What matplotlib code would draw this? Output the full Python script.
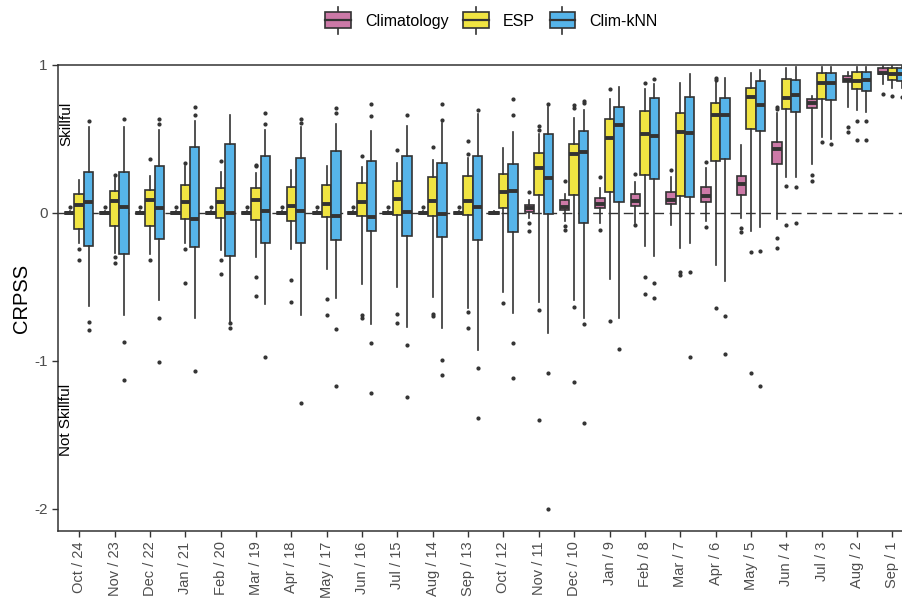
import matplotlib
matplotlib.use("Agg")
import matplotlib.pyplot as plt
from matplotlib.patches import Rectangle
from matplotlib.lines import Line2D
from matplotlib.legend_handler import HandlerBase

plt.rcParams['font.family'] = ['Liberation Sans', 'DejaVu Sans']

months = ["Oct / 24", "Nov / 23", "Dec / 22", "Jan / 21", "Feb / 20", "Mar / 19",
          "Apr / 18", "May / 17", "Jun / 16", "Jul / 15", "Aug / 14", "Sep / 13",
          "Oct / 12", "Nov / 11", "Dec / 10", "Jan / 9", "Feb / 8", "Mar / 7",
          "Apr / 6", "May / 5", "Jun / 4", "Jul / 3", "Aug / 2", "Sep / 1"]

series_names = ["Climatology", "ESP", "Clim-kNN"]
series_colors = ["#CC79A7", "#F0E442", "#56B4E9"]

# ---- Climatology ----
clim_wlo = [-0.01, -0.01, -0.01, -0.01, -0.01, -0.01, -0.01, -0.01, -0.01, -0.01, -0.01, -0.01,
            -0.01, -0.034, -0.056, -0.067, -0.067, -0.083, -0.056, -0.034, -0.038, 0.33, 0.715, 0.87]
clim_q1 = [-0.004, -0.004, -0.004, -0.004, -0.004, -0.004, -0.004, -0.004, -0.004, -0.004, -0.004, -0.004,
           -0.004, 0.009, 0.022, 0.034, 0.045, 0.063, 0.072, 0.124, 0.333, 0.712, 0.883, 0.937]
clim_med = [0.0, 0.0, 0.0, 0.0, 0.0, 0.0, 0.0, 0.0, 0.0, 0.0, 0.0, 0.0,
            0.0, 0.03, 0.038, 0.058, 0.083, 0.09, 0.117, 0.193, 0.434, 0.742, 0.897, 0.948]
clim_q3 = [0.004, 0.004, 0.004, 0.004, 0.004, 0.004, 0.004, 0.004, 0.004, 0.004, 0.004, 0.004,
           0.004, 0.054, 0.088, 0.101, 0.128, 0.139, 0.175, 0.249, 0.481, 0.773, 0.926, 0.978]
clim_whi = [0.01, 0.01, 0.01, 0.01, 0.01, 0.01, 0.01, 0.01, 0.01, 0.01, 0.01, 0.01,
            0.01, 0.09, 0.128, 0.169, 0.207, 0.24, 0.303, 0.456, 0.674, 0.79, 0.955, 0.99]
clim_out = [[0.04], [0.04], [0.04], [0.04], [0.04], [0.04], [0.04], [0.04], [0.04], [0.04], [0.04], [0.04],
            [], [0.139, -0.07, -0.119], [0.213, -0.09, -0.115], [0.245, -0.112], [0.265, -0.079],
            [0.29], [0.344, -0.097], [-0.101, -0.13], [0.715, 0.701, -0.169, -0.24],
            [0.258, 0.218], [0.584, 0.546], [0.807]]

# ---- ESP ----
esp_wlo = [-0.2, -0.27, -0.28, -0.2, -0.252, -0.297, -0.247, -0.382, -0.483, -0.501, -0.569, -0.645,
           -0.535, -0.6, -0.589, -0.449, -0.225, -0.236, -0.355, -0.124, 0.24, 0.51, 0.697, 0.847]
esp_q1 = [-0.106, -0.085, -0.09, -0.04, -0.034, -0.045, -0.052, -0.025, -0.022, -0.013, -0.02, -0.013,
          0.034, 0.124, 0.124, 0.142, 0.254, 0.117, 0.351, 0.566, 0.703, 0.773, 0.836, 0.899]
esp_med = [0.056, 0.079, 0.09, 0.074, 0.076, 0.085, 0.047, 0.063, 0.076, 0.094, 0.079, 0.083,
           0.139, 0.301, 0.398, 0.506, 0.535, 0.544, 0.661, 0.782, 0.78, 0.881, 0.892, 0.939]
esp_q3 = [0.128, 0.146, 0.157, 0.187, 0.166, 0.169, 0.178, 0.191, 0.202, 0.218, 0.243, 0.247,
          0.265, 0.404, 0.463, 0.638, 0.692, 0.674, 0.746, 0.847, 0.906, 0.948, 0.955, 0.978]
esp_whi = [0.225, 0.236, 0.247, 0.32, 0.276, 0.27, 0.29, 0.32, 0.312, 0.335, 0.355, 0.37,
           0.436, 0.533, 0.64, 0.773, 0.836, 0.881, 0.888, 0.944, 0.978, 0.989, 0.989, 0.995]
esp_out = [[-0.247, -0.32], [0.254, -0.30, -0.337], [0.364, -0.315], [0.337, -0.247, -0.474],
           [0.35, -0.319, -0.413], [0.326, 0.315, -0.431, -0.562], [-0.452, -0.6], [-0.582, -0.692],
           [0.387, -0.692, -0.708], [0.427, -0.683, -0.746], [0.447, -0.685, -0.699],
           [0.40, 0.483, -0.667, -0.775], [-0.607], [0.56, 0.589, -0.658, -1.398],
           [0.712, 0.73, -0.634, -1.142], [0.838, -0.73], [0.881, -0.431, -0.551], [-0.398, -0.418],
           [0.915, 0.9, -0.64], [-0.263, -1.079], [0.18, -0.079], [0.479], [0.622, 0.49], [0.793]]

# ---- Clim-kNN ----
knn_wlo = [-0.63, -0.69, -0.59, -0.708, -0.742, -0.618, -0.692, -0.573, -0.748, -0.769, -0.775, -0.928,
           -0.674, -0.809, -0.708, -0.708, -0.292, -0.202, -0.461, -0.097, 0.24, 0.501, 0.685, 0.843]
knn_q1 = [-0.225, -0.28, -0.175, -0.23, -0.29, -0.204, -0.202, -0.18, -0.124, -0.157, -0.162, -0.182,
          -0.128, -0.004, -0.067, 0.076, 0.227, 0.108, 0.364, 0.555, 0.685, 0.76, 0.827, 0.892]
knn_med = [0.074, 0.038, 0.034, -0.04, 0.002, 0.016, 0.016, -0.02, -0.027, 0.004, -0.009, 0.043,
           0.148, 0.238, 0.413, 0.596, 0.521, 0.539, 0.661, 0.73, 0.796, 0.879, 0.899, 0.939]
knn_q3 = [0.28, 0.276, 0.319, 0.447, 0.463, 0.382, 0.369, 0.416, 0.348, 0.387, 0.337, 0.382,
          0.328, 0.535, 0.551, 0.719, 0.775, 0.782, 0.775, 0.892, 0.899, 0.948, 0.955, 0.978]
knn_whi = [0.58, 0.578, 0.56, 0.62, 0.66, 0.56, 0.578, 0.602, 0.551, 0.589, 0.607, 0.667,
           0.548, 0.719, 0.697, 0.852, 0.87, 0.937, 0.91, 0.966, 0.987, 0.989, 0.989, 0.995]
knn_out = [[0.62, -0.74, -0.79], [0.636, -0.87, -1.13], [0.6, 0.634, -0.708, -1.007],
           [0.662, 0.718, -1.067], [-0.746, -0.775], [0.602, 0.674, -0.975], [0.611, 0.636, -1.283],
           [0.674, 0.712, -0.782, -1.173], [0.658, 0.733, -0.881, -1.22], [0.663, -0.894, -1.243],
           [0.629, 0.733, -0.991, -1.094], [0.697, -1.049, -1.389], [0.663, 0.773, -0.881, -1.115],
           [0.735, -1.079, -2.0], [0.746, 0.757, -0.753, -1.42], [-0.917], [0.906, -0.474, -0.578],
           [-0.4, -0.973], [-0.694, -0.955], [-0.258, -1.173], [0.175, -0.067], [0.465],
           [0.622, 0.494], [0.786]]

series_stats = [
    (clim_wlo, clim_q1, clim_med, clim_q3, clim_whi, clim_out),
    (esp_wlo, esp_q1, esp_med, esp_q3, esp_whi, esp_out),
    (knn_wlo, knn_q1, knn_med, knn_q3, knn_whi, knn_out),
]

EDGE = "#333333"
LW = 1.2

fig = plt.figure(figsize=(9.02, 5.99), dpi=100)
ax = fig.add_axes([0.0643, 0.1135, 0.9485, 0.778])

ax.axhline(0, color=EDGE, lw=1.0, ls=(0, (7, 4)), zorder=1)
ax.axhline(1, color=EDGE, lw=1.1, zorder=1, clip_on=False)

dodge = 0.8
nser = len(series_names)
w = dodge / nser
for si, (wlo, q1, med, q3, whi, outs) in enumerate(series_stats):
    offset = -dodge / 2 + w * (si + 0.5)
    stats = []
    for i in range(len(months)):
        stats.append(dict(whislo=wlo[i], q1=q1[i], med=med[i], q3=q3[i], whishi=whi[i], fliers=outs[i]))
    positions = [i + 1 + offset for i in range(len(months))]
    ax.bxp(stats, positions=positions, widths=w, patch_artist=True, showcaps=False,
           boxprops=dict(facecolor=series_colors[si], edgecolor=EDGE, linewidth=LW),
           medianprops=dict(color=EDGE, linewidth=2.8, solid_capstyle='butt'),
           whiskerprops=dict(color=EDGE, linewidth=LW),
           flierprops=dict(marker='o', markersize=2.0, markerfacecolor=EDGE,
                           markeredgecolor=EDGE, linestyle='none'),
           manage_ticks=False, zorder=2)

ax.set_xlim(0.4, len(months) + 0.6)
ax.set_ylim(-2.15, 1.0)
ax.set_xticks(range(1, len(months) + 1))
ax.set_xticklabels(months, rotation=90, fontsize=10.5, color="#4d4d4d")
ax.set_yticks([1, 0, -1, -2])
ax.set_yticklabels(["1", "0", "-1", "-2"], fontsize=11, color="#4d4d4d")
ax.tick_params(axis='both', direction='out', length=4, width=1.0, color="#333333")
ax.set_ylabel("CRPSS", fontsize=14.5, labelpad=2)

for side in ["top", "right"]:
    ax.spines[side].set_visible(False)
for side in ["left", "bottom"]:
    ax.spines[side].set_color("#333333")
    ax.spines[side].set_linewidth(1.1)

ax.text(0.63, 0.6, "Skillful", rotation=90, ha='center', va='center', fontsize=11)
ax.text(0.63, -1.4, "Not Skillful", rotation=90, ha='center', va='center', fontsize=11)


class BoxHandler(HandlerBase):
    def create_artists(self, legend, orig_handle, xdescent, ydescent, width, height, fontsize, trans):
        color = orig_handle.get_facecolor()
        x0 = -xdescent
        y0 = -ydescent
        cx = x0 + width / 2
        bh = height * 1.1
        by = y0 + height / 2 - bh / 2
        wl1 = Line2D([cx, cx], [by - height * 0.4, by], color=EDGE, lw=LW, transform=trans)
        wl2 = Line2D([cx, cx], [by + bh, by + bh + height * 0.4], color=EDGE, lw=LW, transform=trans)
        rect = Rectangle((x0, by), width, bh, facecolor=color, edgecolor=EDGE, lw=LW, transform=trans)
        ml = Line2D([x0, x0 + width], [by + bh / 2, by + bh / 2], color=EDGE, lw=1.6, transform=trans)
        return [wl1, wl2, rect, ml]


handles = [Rectangle((0, 0), 1, 1, facecolor=c) for c in series_colors]
fig.legend(handles, series_names, handler_map={Rectangle: BoxHandler()},
           loc='center', bbox_to_anchor=(0.545, 0.965), ncol=3, frameon=False,
           fontsize=11.5, handlelength=1.6, handleheight=1.0, columnspacing=0.9,
           handletextpad=0.9)

fig.savefig("out.png", dpi=100)
